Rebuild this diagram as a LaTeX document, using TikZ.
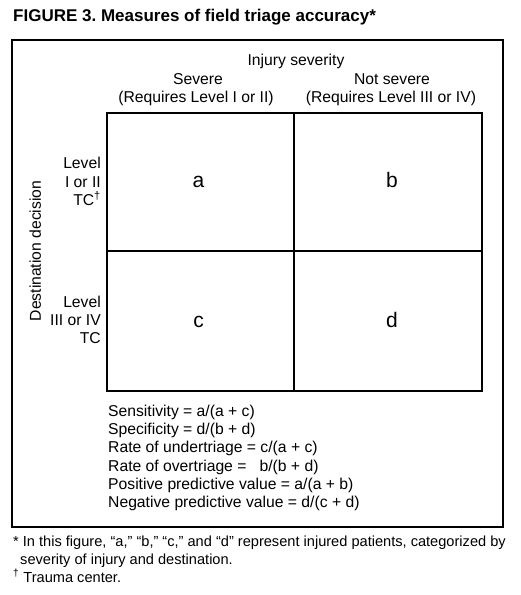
\documentclass[tikz,border=0pt]{standalone}
\usepackage{fontspec}
\setmainfont{Liberation Sans}
\frenchspacing
\begin{document}
\begin{tikzpicture}[x=1pt,y=-1pt,
  txt/.style={inner sep=0pt,font=\fontsize{15.7}{18}\selectfont},
  note/.style={inner sep=0pt,font=\fontsize{14.6}{17}\selectfont},
  cell/.style={inner sep=0pt,font=\fontsize{21}{24}\selectfont},
  grid/.style={line width=1.5pt},
  frame/.style={line width=2pt}]
\useasboundingbox (0,0) rectangle (520,595);
\node[inner sep=0pt,anchor=base west,font=\bfseries\fontsize{17}{19}\selectfont] (title) at (13,21.5) {FIGURE 3. Measures of field triage accuracy*};
\draw[frame] (12,40) rectangle (503,527);
\coordinate (tl) at (107,113);
\coordinate (br) at (482,391);
\draw[grid] (tl) rectangle (br);
\draw[grid] (294,113) -- (294,391);
\draw[grid] (107,251) -- (482,251);
\node[txt,anchor=base] (inj) at (296,65) {Injury severity};
\node[txt,anchor=base] (sev) at (198,84) {Severe};
\node[txt,anchor=base] (sevr) at (196,102) {(Requires Level I or II)};
\node[txt,anchor=base] (ns) at (392,84) {Not severe};
\node[txt,anchor=base] (nsr) at (391,102) {(Requires Level III or IV)};
\node[cell,anchor=base] (a) at (198.5,187) {a};
\node[cell,anchor=base] (b) at (392,187) {b};
\node[cell,anchor=base] (c) at (198.5,327) {c};
\node[cell,anchor=base] (d) at (392,327) {d};
\node[txt,anchor=base east] (l1) at (101,168) {Level};
\node[txt,anchor=base east] (l2) at (101,187) {I or II};
\node[txt,anchor=base east] (l3) at (101,205) {TC\textsuperscript{\dag}};
\node[txt,anchor=base east] (l4) at (101,307) {Level};
\node[txt,anchor=base east] (l5) at (101,325.5) {III or IV};
\node[txt,anchor=base east] (l6) at (101,343.5) {TC};
\node[txt,rotate=90,anchor=base] (dd) at (41,251) {Destination decision};
\node[txt,anchor=base west] (f1) at (108,416) {Sensitivity = a/(a + c)};
\node[txt,anchor=base west] (f2) at (108,434) {Specificity = d/(b + d)};
\node[txt,anchor=base west] (f3) at (108,452.5) {Rate of undertriage = c/(a + c)};
\node[txt,anchor=base west] (f4) at (108,471) {Rate of overtriage = \ \ b/(b + d)};
\node[txt,anchor=base west] (f5) at (108,489) {Positive predictive value = a/(a + b)};
\node[txt,anchor=base west] (f6) at (108,507) {Negative predictive value = d/(c + d)};
\node[note,anchor=base west] (n1) at (13,546) {* In this figure, “a,” “b,” “c,” and “d” represent injured patients, categorized by};
\node[note,anchor=base west] (n2) at (20,564) {severity of injury and destination.};
\node[note,anchor=base west] (n3) at (13,582) {\textsuperscript{\dag} Trauma center.};
\end{tikzpicture}
\end{document}
